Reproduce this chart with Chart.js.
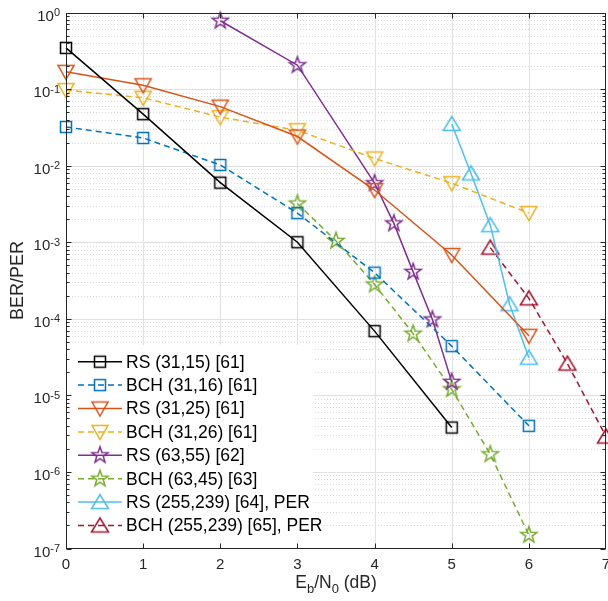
<!DOCTYPE html>
<html>
<head>
<meta charset="utf-8">
<script src="https://cdn.jsdelivr.net/npm/chart.js@4/dist/chart.umd.min.js"></script>
<style>
html, body { margin: 0; padding: 0; background: #fff; }
#wrap { width: 608px; height: 601px; }
</style>
</head>
<body>
<div id="wrap"><canvas id="berChart" width="608" height="601"></canvas></div>
<script>
// values (Eb/N0 in dB, BER or PER)
const xRS3115 = [0, 1, 2, 3, 4, 5];
const yRS3115 = [0.345, 0.047, 0.006, 0.001, 6.9e-5, 3.8e-6];
const xBCH3116 = [0, 1, 2, 3, 4, 5, 6];
const yBCH3116 = [0.032, 0.023, 0.0102, 0.0024, 4.0e-4, 4.4e-5, 4.0e-6];
const xRS3125 = [0, 1, 2, 3, 4, 5, 6];
const yRS3125 = [0.168, 0.112, 0.059, 0.024, 0.0048, 6.8e-4, 6.0e-5];
const xBCH3126 = [0, 1, 2, 3, 4, 5, 6];
const yBCH3126 = [0.097, 0.077, 0.043, 0.029, 0.0124, 0.0059, 0.0024];
const xRS6355 = [2, 3, 4, 4.25, 4.5, 4.75, 5];
const yRS6355 = [0.78, 0.205, 0.0059, 0.00176, 4.1e-4, 9.8e-5, 1.5e-5];
const xBCH6345 = [3, 3.5, 4, 4.5, 5, 5.5, 6];
const yBCH6345 = [0.0032, 1.04e-3, 2.8e-4, 6.4e-5, 1.2e-5, 1.7e-6, 1.5e-7];
const xRS255 = [5, 5.25, 5.5, 5.75, 6];
const yRS255 = [0.035, 0.0079, 0.00167, 1.55e-4, 3.1e-5];
const xBCH255 = [5.5, 6, 6.5, 7];
const yBCH255 = [8.5e-4, 1.85e-4, 2.6e-5, 2.9e-6];

const xTickValues = [0, 1, 2, 3, 4, 5, 6, 7];
const yDecades = [0, -1, -2, -3, -4, -5, -6, -7];
const xTitleParts = [['E', 0], ['b', 1], ['/N', 0], ['0', 1], [' (dB)', 0]];
const yTitle = 'BER/PER';

const axisColor = '#262626';
const fontFam = '"Liberation Sans", Arial, Helvetica, sans-serif';
const dashed = [6, 4];

const makeMarker = (shape, color) => {
    const s = 26;
    const c = document.createElement('canvas');
    c.width = s;
    c.height = s;
    const g = c.getContext('2d');
    g.translate(s / 2, s / 2);
    g.strokeStyle = color;
    g.lineWidth = 1.5;
    g.beginPath();
    if (shape === 'square') {
        g.rect(-5.5, -5.5, 11, 11);
    } else if (shape === 'down') {
        g.moveTo(-8, -6.5); g.lineTo(8, -6.5); g.lineTo(0, 7.5); g.closePath();
    } else if (shape === 'up') {
        g.moveTo(0, -7.5); g.lineTo(8.5, 6.5); g.lineTo(-8.5, 6.5); g.closePath();
    } else {
        for (let i = 0; i < 10; i++) {
            const r = i % 2 ? 3.4 : 8.5;
            const a = -Math.PI / 2 + i * Math.PI / 5;
            if (i === 0) g.moveTo(r * Math.cos(a), r * Math.sin(a));
            else g.lineTo(r * Math.cos(a), r * Math.sin(a));
        }
        g.closePath();
    }
    g.stroke();
    return c;
};

const series = (label, xs, ys, color, shape, dash) => ({
    label,
    data: xs.map((x, i) => ({ x, y: ys[i] })),
    borderColor: color,
    backgroundColor: color,
    borderWidth: 1.5,
    borderDash: dash ? dashed : [],
    pointStyle: makeMarker(shape, color),
    pointRadius: 8,
    tension: 0,
    fill: false,
    clip: false
});

const datasets = [
    series('RS (31,15) [61]', xRS3115, yRS3115, '#000000', 'square', false),
    series('BCH (31,16) [61]', xBCH3116, yBCH3116, '#0072BD', 'square', true),
    series('RS (31,25) [61]', xRS3125, yRS3125, '#D95319', 'down', false),
    series('BCH (31,26) [61]', xBCH3126, yBCH3126, '#EDB120', 'down', true),
    series('RS (63,55) [62]', xRS6355, yRS6355, '#7E2F8E', 'star', false),
    series('BCH (63,45) [63]', xBCH6345, yBCH6345, '#77AC30', 'star', true),
    series('RS (255,239) [64], PER', xRS255, yRS255, '#4DBEEE', 'up', false),
    series('BCH (255,239) [65], PER', xBCH255, yBCH255, '#A2142F', 'up', true)
];

const hLine = (ctx, x1, x2, y) => { ctx.beginPath(); ctx.moveTo(x1, y); ctx.lineTo(x2, y); ctx.stroke(); };
const vLine = (ctx, x, y1, y2) => { ctx.beginPath(); ctx.moveTo(x, y1); ctx.lineTo(x, y2); ctx.stroke(); };

const gridPlugin = {
    id: 'matlabGrid',
    beforeDraw(chart) {
        const { ctx, width, height } = chart;
        ctx.save();
        ctx.fillStyle = '#fff';
        ctx.fillRect(0, 0, width, height);
        ctx.restore();
    },
    beforeDatasetsDraw(chart) {
        const { ctx, chartArea: a, scales: { x, y } } = chart;
        ctx.save();
        ctx.lineWidth = 1;
        ctx.strokeStyle = '#d9d9d9';
        ctx.setLineDash([1, 2]);
        yDecades.slice(1).forEach((e) => {
            for (let m = 2; m <= 9; m++) {
                const py = Math.round(y.getPixelForValue(m * Math.pow(10, e))) + 0.5;
                hLine(ctx, a.left, a.right, py);
            }
        });
        ctx.setLineDash([]);
        ctx.strokeStyle = '#e1e1e1';
        xTickValues.slice(1, -1).forEach((v) => {
            vLine(ctx, Math.round(x.getPixelForValue(v)) + 0.5, a.top, a.bottom);
        });
        yDecades.slice(1, -1).forEach((e) => {
            hLine(ctx, a.left, a.right, Math.round(y.getPixelForValue(Math.pow(10, e))) + 0.5);
        });
        ctx.restore();
    },
    afterDatasetsDraw(chart) {
        const { ctx, chartArea: a, scales: { x, y } } = chart;
        ctx.save();

        // legend, lower left inside the axes
        ctx.fillStyle = '#fff';
        ctx.fillRect(a.left + 1, 345, 246, a.bottom - 345);
        chart.data.datasets.forEach((ds, i) => {
            const cy = 361.7 + i * 23.4;
            ctx.strokeStyle = ds.borderColor;
            ctx.lineWidth = 1.5;
            ctx.setLineDash(ds.borderDash);
            hLine(ctx, 78, 122, cy);
            ctx.setLineDash([]);
            const m = ds.pointStyle;
            ctx.drawImage(m, 100 - m.width / 2, cy - m.height / 2);
            ctx.fillStyle = '#000';
            ctx.font = `17.5px ${fontFam}`;
            ctx.textAlign = 'left';
            ctx.textBaseline = 'middle';
            ctx.fillText(ds.label, 126, cy + 1);
        });

        // axes box and inward ticks
        ctx.strokeStyle = axisColor;
        ctx.lineWidth = 1;
        const L = Math.round(a.left) + 0.5, R = Math.round(a.right) - 0.5;
        const T = Math.round(a.top) + 0.5, B = Math.round(a.bottom) - 0.5;
        ctx.strokeRect(L, T, R - L, B - T);
        xTickValues.slice(1, -1).forEach((v) => {
            const px = Math.round(x.getPixelForValue(v)) + 0.5;
            vLine(ctx, px, B, B - 5);
            vLine(ctx, px, T, T + 5);
        });
        yDecades.forEach((e) => {
            const py = Math.round(y.getPixelForValue(Math.pow(10, e))) + 0.5;
            hLine(ctx, L, L + 5, py);
            hLine(ctx, R, R - 5, py);
            if (e === 0) return;
            for (let m = 2; m <= 9; m++) {
                const q = Math.round(y.getPixelForValue(m * Math.pow(10, e))) + 0.5;
                hLine(ctx, L, L + 3, q);
                hLine(ctx, R, R - 3, q);
            }
        });

        // tick labels
        ctx.fillStyle = axisColor;
        ctx.textBaseline = 'alphabetic';
        xTickValues.forEach((v) => {
            ctx.font = `15px ${fontFam}`;
            ctx.textAlign = 'center';
            ctx.fillText(String(v), x.getPixelForValue(v), 569);
        });
        yDecades.forEach((e) => {
            const py = y.getPixelForValue(Math.pow(10, e));
            const exp = e === 0 ? '0' : `-${-e}`;
            ctx.font = `11px ${fontFam}`;
            const w = ctx.measureText(exp).width;
            ctx.textAlign = 'left';
            ctx.fillText(exp, 60 - w, py + 3.5);
            ctx.font = `15px ${fontFam}`;
            ctx.textAlign = 'right';
            ctx.fillText('10', 60 - w, py + 8);
        });

        // axis titles
        let total = 0;
        xTitleParts.forEach(([t, sub]) => {
            ctx.font = `${sub ? 13 : 17.5}px ${fontFam}`;
            total += ctx.measureText(t).width;
        });
        let cx = (a.left + a.right) / 2 - total / 2;
        ctx.textAlign = 'left';
        xTitleParts.forEach(([t, sub]) => {
            ctx.font = `${sub ? 13 : 17.5}px ${fontFam}`;
            ctx.fillText(t, cx, sub ? 592.5 : 587.5);
            cx += ctx.measureText(t).width;
        });
        ctx.translate(18, (a.top + a.bottom) / 2);
        ctx.rotate(-Math.PI / 2);
        ctx.font = `18px ${fontFam}`;
        ctx.textAlign = 'center';
        ctx.textBaseline = 'middle';
        ctx.fillText(yTitle, 0, 0);
        ctx.restore();
    }
};

new Chart(document.getElementById('berChart'), {
    type: 'line',
    data: { datasets },
    options: {
        responsive: false,
        devicePixelRatio: 1,
        animation: false,
        layout: { autoPadding: false, padding: { top: 12.5, right: 2, left: 0, bottom: 0 } },
        scales: {
            x: {
                type: 'linear',
                min: 0,
                max: 7,
                ticks: { display: false, stepSize: 1 },
                grid: { display: false },
                border: { display: false },
                afterFit: (scale) => { scale.height = 52.5; }
            },
            y: {
                type: 'logarithmic',
                min: 1e-7,
                max: 1,
                ticks: { display: false },
                grid: { display: false },
                border: { display: false },
                afterFit: (scale) => { scale.width = 66; }
            }
        },
        plugins: {
            legend: { display: false },
            tooltip: { enabled: false }
        }
    },
    plugins: [gridPlugin]
});
</script>
</body>
</html>
